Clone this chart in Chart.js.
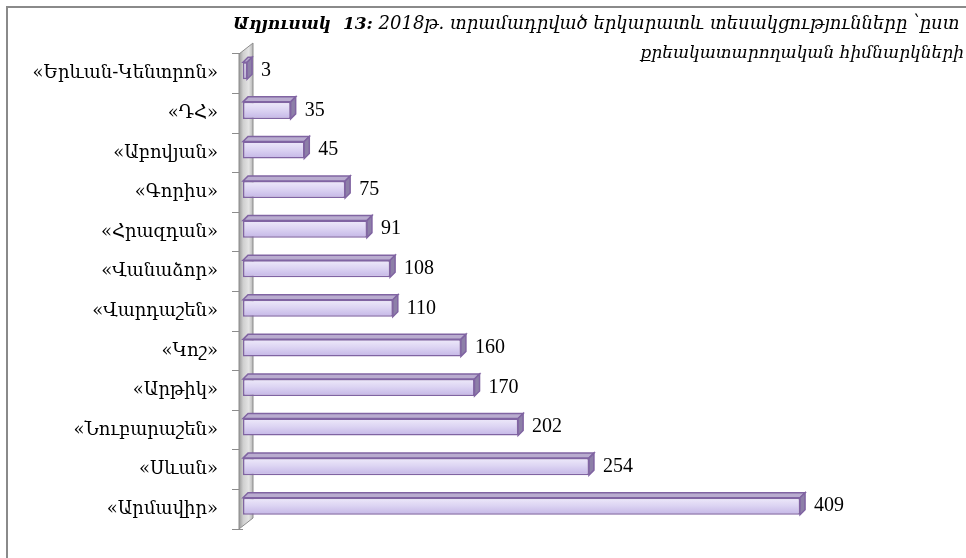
<!DOCTYPE html>
<html>
<head>
<meta charset="utf-8">
<script src="https://cdn.jsdelivr.net/npm/chart.js@4"></script>
<style>
  html, body { margin: 0; padding: 0; background: #fff; }
  #wrap { width: 966px; height: 558px; }
</style>
</head>
<body>
<div id="wrap"><canvas id="visits" width="966" height="558"></canvas></div>
<script>
// data
const categories = ["«Երևան-Կենտրոն»", "«ԴՀ»", "«Աբովյան»", "«Գորիս»", "«Հրազդան»", "«Վանաձոր»",
    "«Վարդաշեն»", "«Կոշ»", "«Արթիկ»", "«Նուբարաշեն»", "«Սևան»", "«Արմավիր»"];
const visits = [3, 35, 45, 75, 91, 108, 110, 160, 170, 202, 254, 409];
const titleBold = "Աղյուսակ  13:";
const titleLine1 = " 2018թ. տրամադրված երկարատև տեսակցությունները ՝ըստ";
const titleLine2 = "քրեակատարողական հիմնարկների";

const barFrac = 0.43;
const depth = 5;
const serif = "'DejaVu Serif', serif";
const numFont = "'Liberation Serif', 'DejaVu Serif', serif";

function barFill(c) {
    const chart = c.chart;
    const y = chart.scales.y;
    if (!chart.chartArea || !y) return "#dcd3f0";
    const yc = y.getPixelForValue(c.dataIndex);
    const h = y.height / categories.length * barFrac;
    const g = chart.ctx.createLinearGradient(0, yc - h / 2, 0, yc + h / 2);
    g.addColorStop(0, "#eeeafa");
    g.addColorStop(0.45, "#ddd5f3");
    g.addColorStop(1, "#c4b6e6");
    return g;
}

const threeD = {
    id: "threeD",
    beforeDraw(chart) {
        const ctx = chart.ctx;
        ctx.save();
        ctx.strokeStyle = "#8a8a8a";
        ctx.lineWidth = 2;
        ctx.strokeRect(7, 7, 3000, 3000);

        // title
        ctx.fillStyle = "#000";
        ctx.textBaseline = "alphabetic";
        ctx.font = "bold italic 17px " + serif;
        ctx.textAlign = "left";
        ctx.fillText(titleBold, 233, 29);
        const w = ctx.measureText(titleBold).width;
        ctx.font = "italic 18px " + serif;
        ctx.fillText(titleLine1, 233 + w, 29);
        ctx.font = "italic 17px " + serif;
        ctx.textAlign = "right";
        ctx.fillText(titleLine2, 964, 58);
        ctx.restore();
    },
    beforeDatasetsDraw(chart) {
        const ctx = chart.ctx;
        const a = chart.chartArea;
        // side wall behind the category axis
        const l = a.left - 4, wd = 14, dy = 11;
        ctx.save();
        const g = ctx.createLinearGradient(l, 0, l + wd, 0);
        g.addColorStop(0, "#9a9a9a");
        g.addColorStop(0.3, "#cfcfcf");
        g.addColorStop(0.7, "#e4e4e4");
        g.addColorStop(1, "#b4b4b4");
        ctx.fillStyle = g;
        ctx.strokeStyle = "#8c8c8c";
        ctx.lineWidth = 1;
        ctx.beginPath();
        ctx.moveTo(l, a.top);
        ctx.lineTo(l + wd, a.top - dy);
        ctx.lineTo(l + wd, a.bottom - dy);
        ctx.lineTo(l, a.bottom);
        ctx.closePath();
        ctx.fill();
        ctx.stroke();
        ctx.restore();

        ctx.save();
        ctx.translate(0, -3);
    },
    afterDatasetsDraw(chart) {
        const ctx = chart.ctx;
        const meta = chart.getDatasetMeta(0);
        ctx.lineWidth = 1.5;
        ctx.strokeStyle = "#8064a2";
        meta.data.forEach((bar, i) => {
            const top = bar.y - bar.height / 2;
            const bot = bar.y + bar.height / 2;
            // top face
            ctx.fillStyle = "#b9accf";
            ctx.beginPath();
            ctx.moveTo(bar.base, top);
            ctx.lineTo(bar.base + depth, top - depth);
            ctx.lineTo(bar.x + depth, top - depth);
            ctx.lineTo(bar.x, top);
            ctx.closePath();
            ctx.fill();
            ctx.stroke();
            // side face
            ctx.fillStyle = "#8d7fa8";
            ctx.beginPath();
            ctx.moveTo(bar.x, top);
            ctx.lineTo(bar.x + depth, top - depth);
            ctx.lineTo(bar.x + depth, bot - depth);
            ctx.lineTo(bar.x, bot);
            ctx.closePath();
            ctx.fill();
            ctx.stroke();

            ctx.fillStyle = "#000";
            ctx.font = "20px " + numFont;
            ctx.textAlign = "left";
            ctx.textBaseline = "middle";
            ctx.fillText(String(visits[i]), bar.x + 14, bar.y);
        });
        ctx.restore();
    }
};

new Chart("visits", {
    type: "bar",
    data: {
        labels: categories,
        datasets: [{
            data: visits,
            backgroundColor: barFill,
            borderColor: "#8064a2",
            borderWidth: 1.5,
            borderSkipped: false,
            categoryPercentage: 1,
            barPercentage: barFrac
        }]
    },
    options: {
        indexAxis: "y",
        responsive: false,
        animation: false,
        layout: { padding: { top: 54, bottom: 29, left: 0, right: 42 } },
        plugins: {
            legend: { display: false },
            tooltip: { enabled: false }
        },
        scales: {
            x: { display: false, min: 0, max: 500 },
            y: {
                afterFit: (scale) => { scale.width = 243; },
                border: { display: false },
                grid: { drawOnChartArea: false, tickLength: 11, color: "#8c8c8c", offset: true },
                ticks: { padding: 14, color: "#000", font: { family: serif, size: 18 } }
            }
        }
    },
    plugins: [threeD]
});
</script>
</body>
</html>
